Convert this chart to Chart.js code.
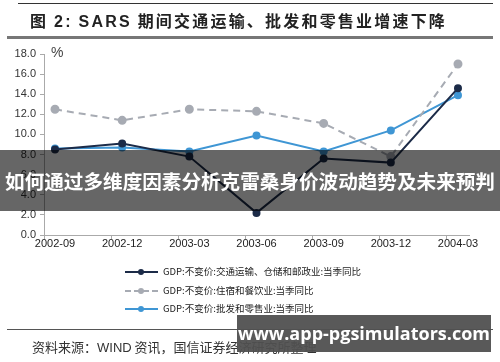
<!DOCTYPE html>
<html><head><meta charset="utf-8">
<script src="https://cdn.jsdelivr.net/npm/chart.js@4/dist/chart.umd.min.js"></script>
<style>
html,body{margin:0;padding:0;background:#fff;}
#wrap{position:relative;width:500px;height:362px;overflow:hidden;font-family:"Noto Sans CJK SC","Liberation Sans",sans-serif;}
#c{position:absolute;left:0;top:0;}
.abs{position:absolute;}
#topline{left:18px;top:3px;width:475px;height:1px;background:#333;}
#title{left:30px;top:8px;font-size:16px;font-weight:bold;color:#222;letter-spacing:2.2px;white-space:nowrap;}
#title .lat{font-family:"Liberation Sans",Arial,sans-serif;}
#thick{left:7px;top:36px;width:486px;height:3px;background:#777;}
#pct{left:51px;top:44px;font-size:14px;color:#444;font-family:"Liberation Sans",sans-serif;}
.leg{left:125px;font-size:9.5px;color:#222;white-space:nowrap;}
.leg .ln{position:absolute;left:0;top:0;width:33px;height:0;}
.leg .dot{position:absolute;left:13px;top:-3px;width:6px;height:6px;border-radius:50%;}
.leg span.t{position:absolute;left:38px;top:-8px;}
#botline{left:7px;top:329px;width:486px;height:1px;background:#555;}
#src{left:32px;top:337px;font-size:13px;color:#333;white-space:nowrap;}
#ban1{left:0;top:150px;width:500px;height:61px;background:rgba(0,0,0,0.6);color:#fff;font-weight:bold;font-size:19.6px;line-height:61px;text-align:center;white-space:nowrap;}
#ban2{left:237px;top:315px;width:254px;height:37px;background:rgba(80,80,80,0.95);color:#fff;font-weight:bold;font-size:18px;line-height:37px;text-align:center;font-family:"Open Sans","DejaVu Sans",sans-serif;white-space:nowrap;}
</style></head>
<body>
<div id="wrap">
<canvas id="c" width="500" height="362"></canvas>
<div class="abs" id="topline"></div>
<div class="abs" id="title">图 <span class="lat">2:</span> <span class="lat">SARS</span> 期间交通运输、批发和零售业增速下降</div>
<div class="abs" id="thick"></div>
<div class="abs" id="pct">%</div>
<div class="abs leg" style="top:272px"><div class="ln" style="border-top:2px solid #1c2b48;top:-1px"></div><div class="dot" style="background:#1c2b48"></div><span class="t">GDP:不变价:交通运输、仓储和邮政业:当季同比</span></div>
<div class="abs leg" style="top:291px"><div class="ln" style="border-top:2px dashed #a7abb3;top:-1px"></div><div class="dot" style="background:#a7abb3"></div><span class="t">GDP:不变价:住宿和餐饮业:当季同比</span></div>
<div class="abs leg" style="top:309px"><div class="ln" style="border-top:2px solid #3f96d4;top:-1px"></div><div class="dot" style="background:#3f96d4"></div><span class="t">GDP:不变价:批发和零售业:当季同比</span></div>
<div class="abs" id="botline"></div>
<div class="abs" id="src">资料来源：<span style="font-family:'Liberation Sans',sans-serif">WIND</span> 资讯，国信证券经济研究所整理</div>
<div class="abs" id="ban1">如何通过多维度因素分析克雷桑身价波动趋势及未来预判</div>
<div class="abs" id="ban2">www.app-pgsimulators.com</div>
</div>
<script>
const categories = ["2002-09","2002-12","2003-03","2003-06","2003-09","2003-12","2004-03"];
const transport = [8.5, 9.1, 7.8, 2.2, 7.6, 7.2, 14.6];
const hotel = [12.5, 11.4, 12.5, 12.3, 11.1, 7.8, 17.0];
const retail = [8.6, 8.7, 8.3, 9.9, 8.3, 10.4, 13.9];
const yTicks = [0,2,4,6,8,10,12,14,16,18];

const pts = arr => arr.map((v,i)=>({x:i,y:v}));
const OFF = 0.164;
new Chart(document.getElementById('c'), {
  type:'line',
  data:{datasets:[
    {label:'transport',data:pts(transport),borderColor:'#1c2b48',backgroundColor:'#1c2b48',borderWidth:2,pointRadius:3,pointHoverRadius:3,tension:0},
    {label:'hotel',data:pts(hotel),borderColor:'#a7abb3',backgroundColor:'#a7abb3',borderWidth:2,borderDash:[7,5],pointRadius:3.5,tension:0},
    {label:'retail',data:pts(retail),borderColor:'#3f96d4',backgroundColor:'#3f96d4',borderWidth:2,pointRadius:3,tension:0}
  ]},
  options:{
    responsive:false,animation:false,
    layout:{padding:{left:0,top:54,right:31,bottom:0}},
    plugins:{legend:{display:false},tooltip:{enabled:false}},
    scales:{
      x:{type:'linear',min:-OFF,max:6+OFF,weight:1,
        afterBuildTicks:s=>{s.ticks=categories.map((c,i)=>({value:i}));},
        afterFit:s=>{s.height=127;},
        ticks:{autoSkip:false,maxRotation:0,padding:2,color:'#222',font:{family:'Liberation Sans',size:11},callback:v=>categories[Math.round(v)]},
        grid:{display:false,drawTicks:false},
        border:{display:true,color:'#aaa',width:1}},
      x2:{type:'linear',position:'bottom',min:-OFF,max:6+OFF,weight:0,
        afterBuildTicks:s=>{s.ticks=categories.map((c,i)=>({value:i-OFF}));},
        afterFit:s=>{s.height=0;},
        ticks:{display:false},
        grid:{drawOnChartArea:false,drawTicks:true,tickLength:4,color:'#aaa'},
        border:{display:false}},
      y:{min:0,max:18,
        afterBuildTicks:s=>{s.ticks=yTicks.map(v=>({value:v}));},
        afterFit:s=>{s.width=44;},
        ticks:{color:'#333',padding:4,font:{family:'Liberation Sans',size:11},callback:v=>v.toFixed(1)},
        grid:{drawOnChartArea:false,drawTicks:true,tickLength:4,color:'#aaa'},
        border:{color:'#aaa'}}
    }
  }
});
</script>
</body></html>
